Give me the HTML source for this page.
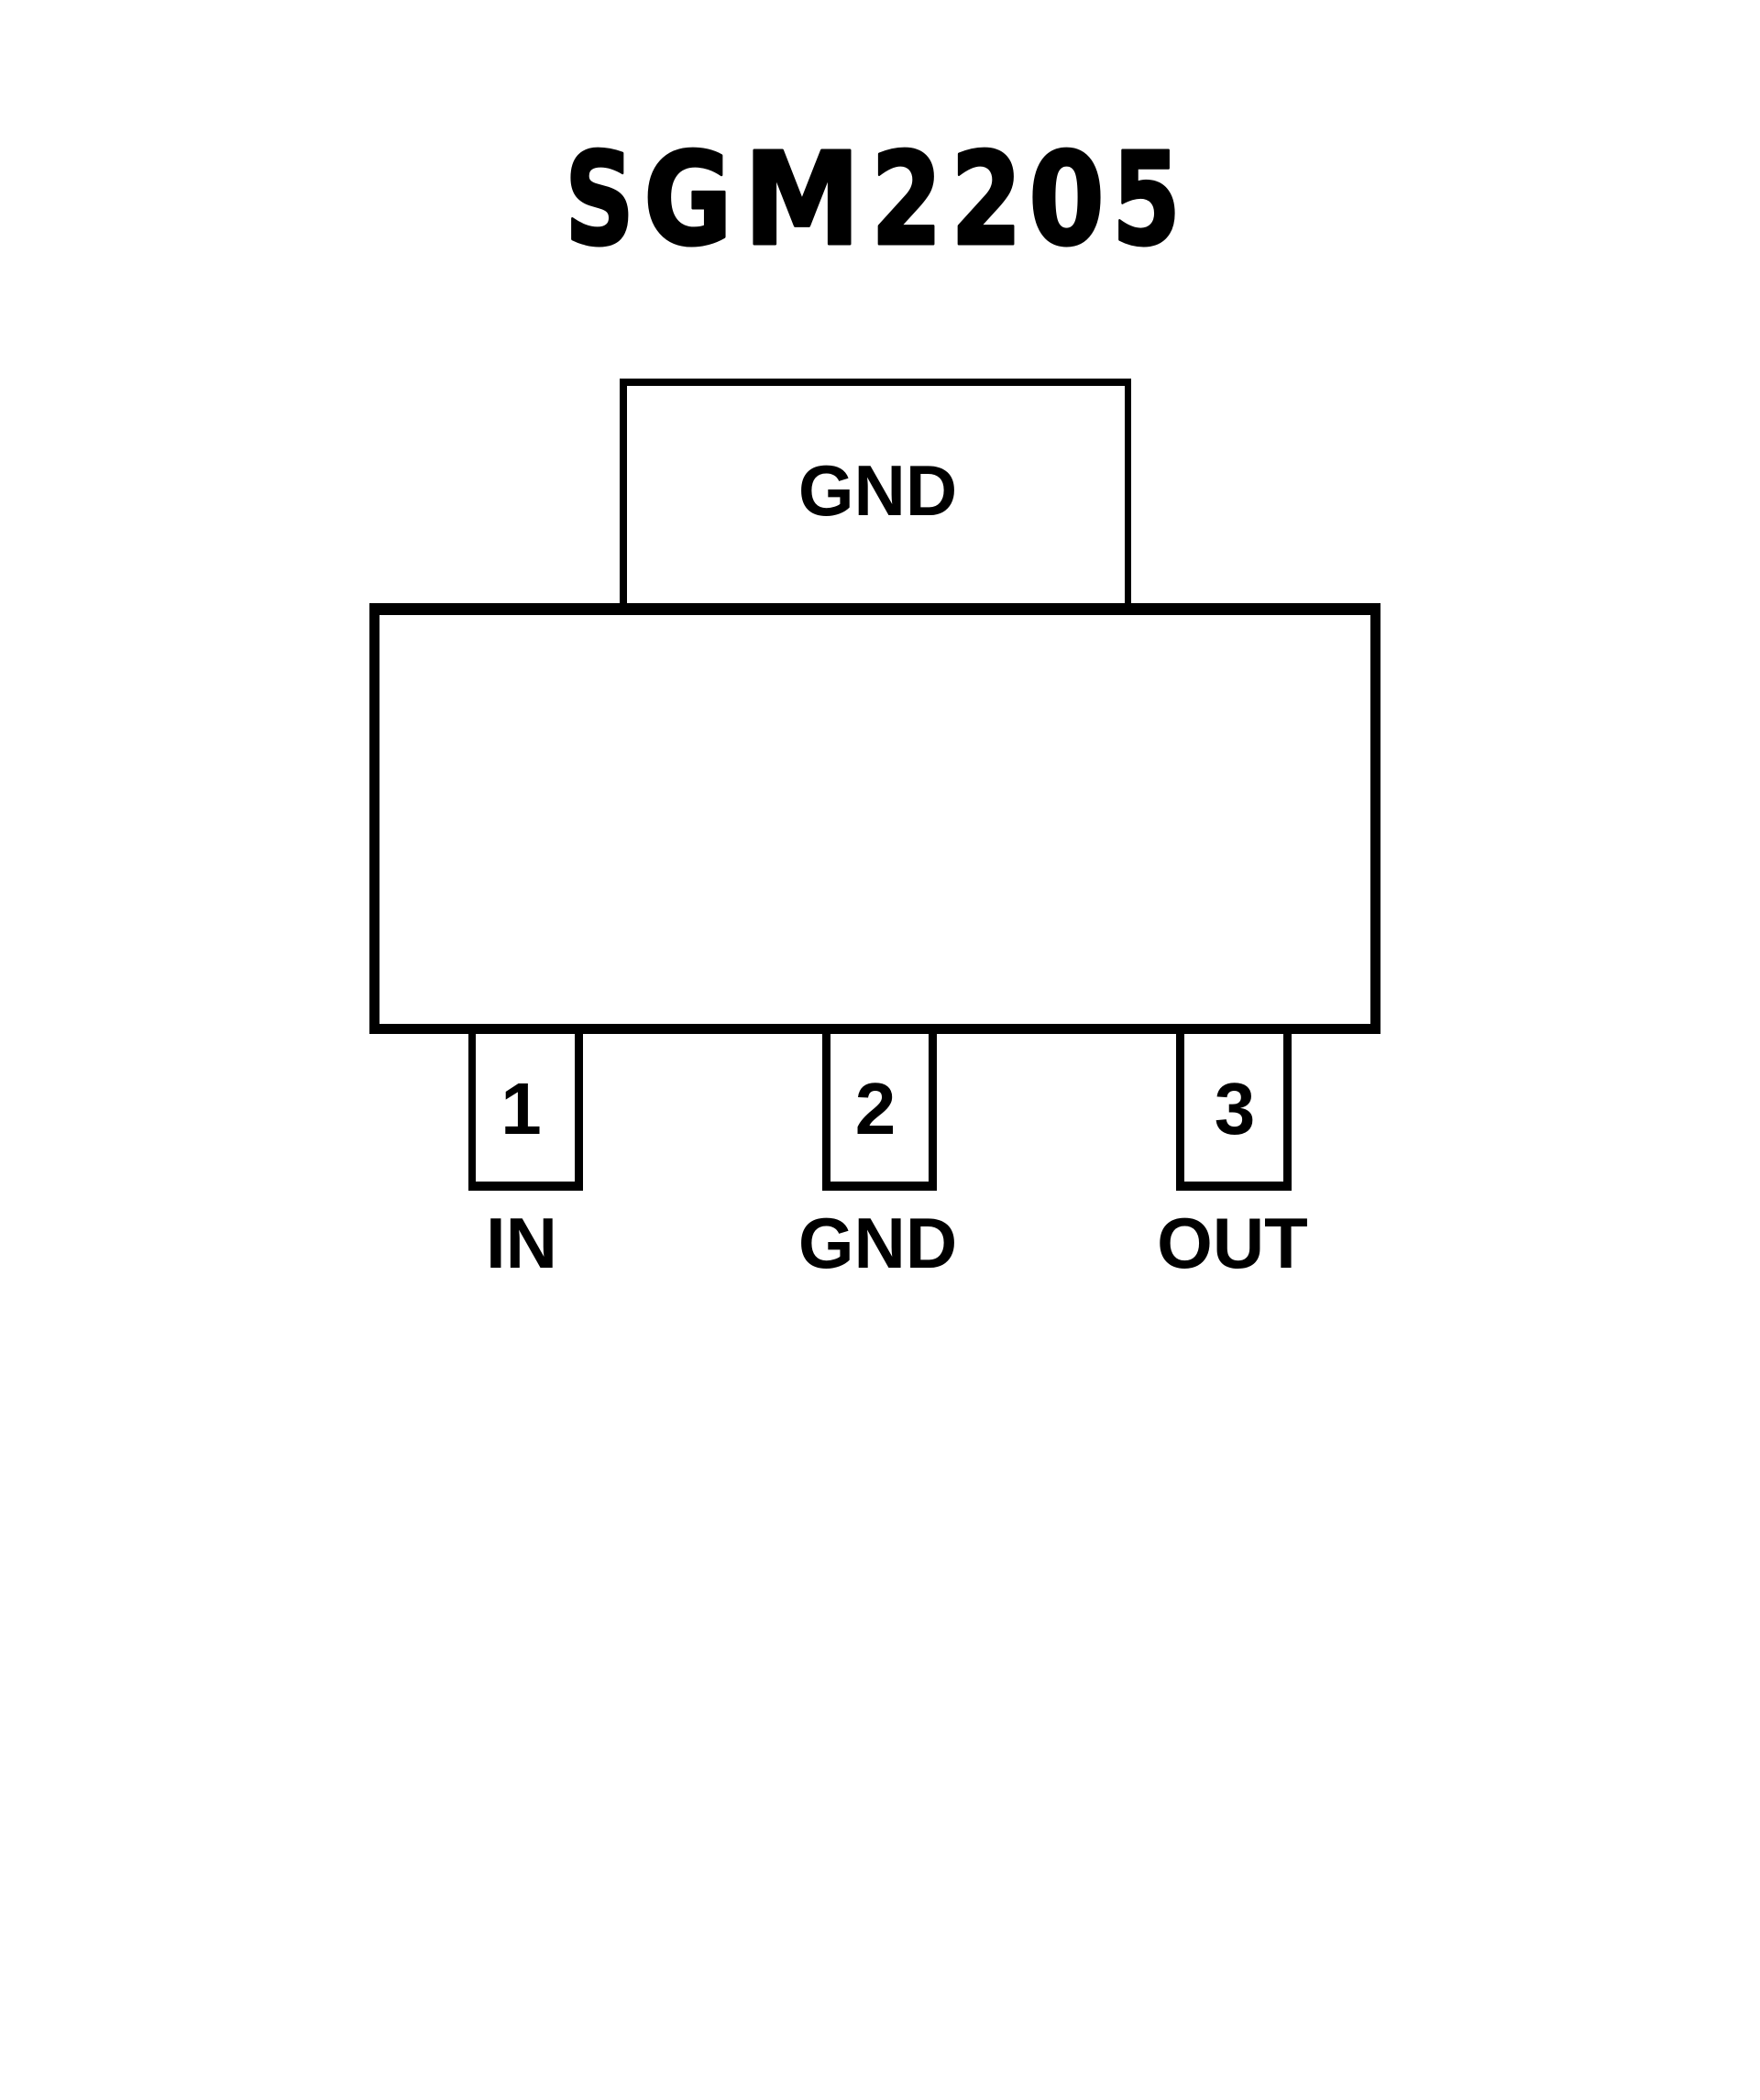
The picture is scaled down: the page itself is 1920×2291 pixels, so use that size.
<!DOCTYPE html>
<html>
<head>
<meta charset="utf-8">
<style>
  html, body { margin:0; padding:0; background:#ffffff; }
  body { width:1920px; height:2291px; overflow:hidden; }
  svg { display:block; }
</style>
</head>
<body>
<svg width="1920" height="2291" viewBox="0 0 1920 2291" xmlns="http://www.w3.org/2000/svg">
  <rect x="0" y="0" width="1920" height="2291" fill="#ffffff"/>

  <!-- Title: per-glyph placement to match narrow glyphs with wide spacing -->
  <g font-family="'DejaVu Sans', 'Liberation Sans', sans-serif" font-weight="700" font-size="140" fill="#000" stroke="#000" stroke-width="3" stroke-linejoin="round">
    <text x="616" y="266" textLength="76" lengthAdjust="spacingAndGlyphs">S</text>
    <text x="702" y="266" textLength="97" lengthAdjust="spacingAndGlyphs">G</text>
    <text x="811" y="266" textLength="128" lengthAdjust="spacingAndGlyphs">M</text>
    <text x="950" y="266" textLength="78" lengthAdjust="spacingAndGlyphs">2</text>
    <text x="1037" y="266" textLength="78" lengthAdjust="spacingAndGlyphs">2</text>
    <text x="1122" y="266" textLength="83" lengthAdjust="spacingAndGlyphs">0</text>
    <text x="1213" y="266" textLength="75" lengthAdjust="spacingAndGlyphs">5</text>
  </g>

  <!-- Tab (top GND) -->
  <g fill="#000">
    <rect x="676" y="413" width="558" height="8"/>
    <rect x="676" y="413" width="8" height="250"/>
    <rect x="1227" y="413" width="7" height="250"/>
  </g>
  <text x="957.5" y="562" text-anchor="middle" font-family="'Liberation Sans', Arial, sans-serif" font-weight="700" font-size="78" fill="#000">GND</text>

  <!-- Body -->
  <g fill="#000">
    <rect x="403" y="658" width="1103" height="13"/>
    <rect x="403" y="1117" width="1103" height="11"/>
    <rect x="403" y="658" width="11" height="470"/>
    <rect x="1495" y="658" width="11" height="470"/>
  </g>

  <!-- Pin 1 -->
  <g fill="#000">
    <rect x="511" y="1120" width="8" height="179"/>
    <rect x="627" y="1120" width="9" height="179"/>
    <rect x="511" y="1289" width="125" height="10"/>
  </g>
  <!-- Pin 2 -->
  <g fill="#000">
    <rect x="897" y="1120" width="9" height="179"/>
    <rect x="1013" y="1120" width="9" height="179"/>
    <rect x="897" y="1289" width="125" height="10"/>
  </g>
  <!-- Pin 3 -->
  <g fill="#000">
    <rect x="1283" y="1120" width="9" height="179"/>
    <rect x="1400" y="1120" width="9" height="179"/>
    <rect x="1283" y="1289" width="126" height="10"/>
  </g>

  <!-- Pin numbers -->
  <g font-family="'Liberation Sans', Arial, sans-serif" font-weight="700" font-size="80" fill="#000" text-anchor="middle">
    <text x="568.5" y="1237">1</text>
    <text x="955" y="1237">2</text>
    <text x="1347" y="1237">3</text>
  </g>

  <!-- Pin labels -->
  <g font-family="'Liberation Sans', Arial, sans-serif" font-weight="700" font-size="78" fill="#000" text-anchor="middle">
    <text x="569" y="1383">IN</text>
    <text x="957.5" y="1383">GND</text>
    <text x="1344.5" y="1383">OUT</text>
  </g>
</svg>
</body>
</html>
